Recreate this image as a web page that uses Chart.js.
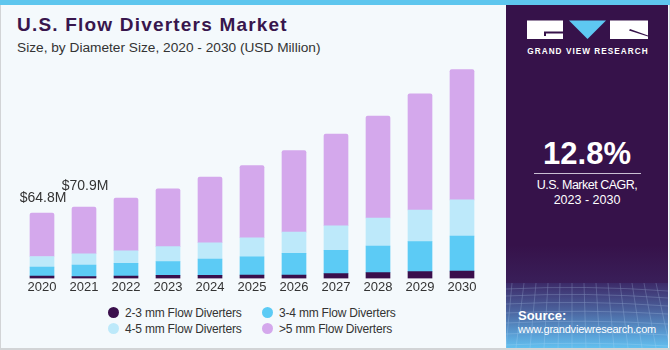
<!DOCTYPE html>
<html>
<head>
<meta charset="utf-8">
<script src="https://cdn.jsdelivr.net/npm/chart.js@4.4.1/dist/chart.umd.min.js"></script>
<style>
  html, body { margin: 0; padding: 0; }
  body { width: 670px; height: 350px; position: relative; overflow: hidden; background: #f4f9fc; font-family: "Liberation Sans", Arial, sans-serif; }
  #frame { position: absolute; left: 0; top: 0; border-left: 1px solid #d2d4d6; border-right: 1px solid #d2d4d6; border-bottom: 2px solid #d2d4d6; box-sizing: border-box; width: 670px; height: 350px; }
  #stripe { position: absolute; left: 0; top: 0; width: 670px; height: 5px; background: #5ec6ee; }
  #title { position: absolute; left: 17px; top: 14px; font-size: 19px; font-weight: bold; color: #38164d; letter-spacing: 1.2px; white-space: nowrap; }
  #subtitle { position: absolute; left: 17px; top: 40px; font-size: 13.7px; color: #333; white-space: nowrap; }
  #chartwrap { position: absolute; left: 0; top: 0; width: 505px; height: 300px; }
  #legend { position: absolute; left: 0; top: 0; }
  .li { position: absolute; font-size: 12px; letter-spacing: -0.2px; color: #333; white-space: nowrap; }
  .dot { position: absolute; width: 11px; height: 11px; border-radius: 50%; }
  #panel { position: absolute; left: 506px; top: 5px; width: 162px; height: 343px; background: #36124a; overflow: hidden; }
  #band { position: absolute; left: 0; top: 278px; width: 162px; height: 65px; background: linear-gradient(to bottom, #3c2a68 0%, #4a5f9a 40%, #5aa0d6 80%, #62c0ef 100%); }
  #bandfade { position: absolute; left: 0; top: 240px; width: 162px; height: 40px; background: linear-gradient(to bottom, rgba(60,32,95,0) 0%, rgba(60,40,100,0.6) 100%); }
  .pt { position: absolute; color: #fff; white-space: nowrap; text-align: center; }
</style>
</head>
<body>
<div id="frame"></div>
<div id="stripe"></div>
<div id="title">U.S. Flow Diverters Market</div>
<div id="subtitle">Size, by Diameter Size, 2020 - 2030 (USD Million)</div>
<div id="chartwrap"><canvas id="c" width="505" height="300"></canvas></div>
<div id="legend"></div>
<div id="panel">
  <div id="bandfade"></div>
  <div id="band">
    <svg width="162" height="65" style="position:absolute;left:0;top:0;opacity:0.35">
      <g stroke="#c9e6ff" stroke-width="0.6" fill="none">
        <path d="M0 6 Q80 2 162 8"/><path d="M0 13 Q80 9 162 15"/><path d="M0 21 Q80 17 162 23"/>
        <path d="M0 30 Q80 26 162 31"/><path d="M0 40 Q80 36 162 41"/><path d="M0 51 Q80 47 162 52"/><path d="M0 62 Q80 58 162 63"/>
        <path d="M6 0 L0 65"/><path d="M18 0 L10 65"/><path d="M30 0 L24 65"/><path d="M42 0 L38 65"/><path d="M54 0 L52 65"/>
        <path d="M66 0 L66 65"/><path d="M78 0 L80 65"/><path d="M90 0 L94 65"/><path d="M102 0 L108 65"/><path d="M114 0 L122 65"/>
        <path d="M126 0 L136 65"/><path d="M138 0 L150 65"/><path d="M150 0 L164 65"/>
      </g>
    </svg>
  </div>
  <svg width="162" height="60" style="position:absolute;left:0;top:0">
    <rect x="21" y="15.5" width="36" height="18.5" fill="#ffffff"/>
    <path d="M38 26.5 H57 V28.5 H40 V31 H38 Z" fill="#36124a"/>
    <polygon points="63,15.5 100,15.5 81.5,34" fill="#5ec8f2"/>
    <rect x="104" y="15.5" width="38" height="18.5" fill="#ffffff"/>
    <path d="M124 24 L142 30.5 L142 31.5 L123 25.5 Z" fill="#36124a"/>
  </svg>
  <div class="pt" style="left:0;width:162px;top:42px;font-size:8.2px;font-weight:bold;letter-spacing:1.05px;padding-left:1px;">GRAND VIEW RESEARCH</div>
  <div class="pt" style="left:0;width:162px;top:131px;font-size:31px;font-weight:bold;">12.8%</div>
  <div style="position:absolute;left:28px;top:168px;width:107px;height:1px;background:#c9bfd3;"></div>
  <div class="pt" style="left:0;width:162px;top:173px;font-size:12.5px;letter-spacing:-0.5px;">U.S. Market CAGR,</div>
  <div class="pt" style="left:0;width:162px;top:188px;font-size:12.5px;">2023 - 2030</div>
  <div class="pt" style="left:12px;top:303px;font-size:13px;font-weight:bold;text-align:left;">Source:</div>
  <div class="pt" style="left:12px;top:318px;font-size:11px;letter-spacing:-0.2px;text-align:left;">www.grandviewresearch.com</div>
</div>
<script>
const years = ['2020','2021','2022','2023','2024','2025','2026','2027','2028','2029','2030'];
const seriesNames = ['2-3 mm Flow Diverters','3-4 mm Flow Diverters','4-5 mm Flow Diverters','>5 mm Flow Diverters'];
const mm2to3 = [2.3, 1.7, 2.3, 3.0, 3.0, 3.3, 3.3, 4.7, 5.7, 6.7, 7.2];
const mm3to4 = [8.9, 11.6, 12.6, 13.6, 16.2, 18.2, 21.5, 23.1, 26.5, 29.8, 34.8];
const mm4to5 = [10.6, 11.2, 12.6, 14.9, 16.2, 18.9, 21.2, 24.5, 27.8, 31.5, 36.0];
const mmOver5 = [43.0, 46.4, 52.3, 57.6, 65.2, 71.8, 81.1, 91.1, 101.3, 115.5, 129.4];
const labeledYears = [0, 1];

const colors = ['#3a0f4c', '#5ccbf5', '#bde9fa', '#d4a8ec'];
const labelOffsets = [15, 21];

const seriesData = [mm2to3, mm3to4, mm4to5, mmOver5];
const datasets = seriesData.map((d, i) => ({
  label: seriesNames[i],
  data: d,
  backgroundColor: colors[i],
  borderWidth: 0,
  barThickness: 24,
  borderRadius: i === 3 ? {topLeft: 2, topRight: 2} : 0,
  borderSkipped: i === 3 ? 'bottom' : true
}));

const totalLabels = {
  id: 'totalLabels',
  afterDatasetsDraw(chart) {
    const ctx = chart.ctx;
    const meta = chart.getDatasetMeta(3);
    ctx.save();
    ctx.font = '14px "Liberation Sans", Arial, sans-serif';
    ctx.fillStyle = '#333';
    ctx.textAlign = 'center';
    ctx.textBaseline = 'middle';
    labeledYears.forEach((idx, k) => {
      const total = seriesData.reduce((s, arr) => s + arr[idx], 0);
      const bar = meta.data[idx];
      ctx.fillText('$' + total.toFixed(1) + 'M', bar.x + 1, bar.y - labelOffsets[k]);
    });
    ctx.restore();
  }
};

new Chart(document.getElementById('c'), {
  type: 'bar',
  data: { labels: years, datasets },
  options: {
    responsive: false,
    animation: false,
    layout: { padding: { left: 21, right: 22, top: 60, bottom: 4 } },
    plugins: { legend: { display: false }, tooltip: { enabled: false } },
    scales: {
      x: {
        stacked: true,
        grid: { display: false, drawTicks: false },
        border: { display: false },
        ticks: { padding: 1, color: '#333', font: { size: 13, family: '"Liberation Sans", Arial, sans-serif' } }
      },
      y: { stacked: true, display: false, min: 0, max: 217 }
    }
  },
  plugins: [totalLabels]
});

const legendPos = [[108, 306], [262, 306], [108, 322], [262, 322]];
const legend = document.getElementById('legend');
seriesNames.forEach((name, i) => {
  const dot = document.createElement('div');
  dot.className = 'dot';
  dot.style.background = colors[i];
  dot.style.left = legendPos[i][0] + 'px';
  dot.style.top = (legendPos[i][1] + 1) + 'px';
  legend.appendChild(dot);
  const t = document.createElement('div');
  t.className = 'li';
  t.textContent = name;
  t.style.left = (legendPos[i][0] + 17) + 'px';
  t.style.top = (legendPos[i][1] - 0) + 'px';
  legend.appendChild(t);
});
</script>
</body>
</html>
